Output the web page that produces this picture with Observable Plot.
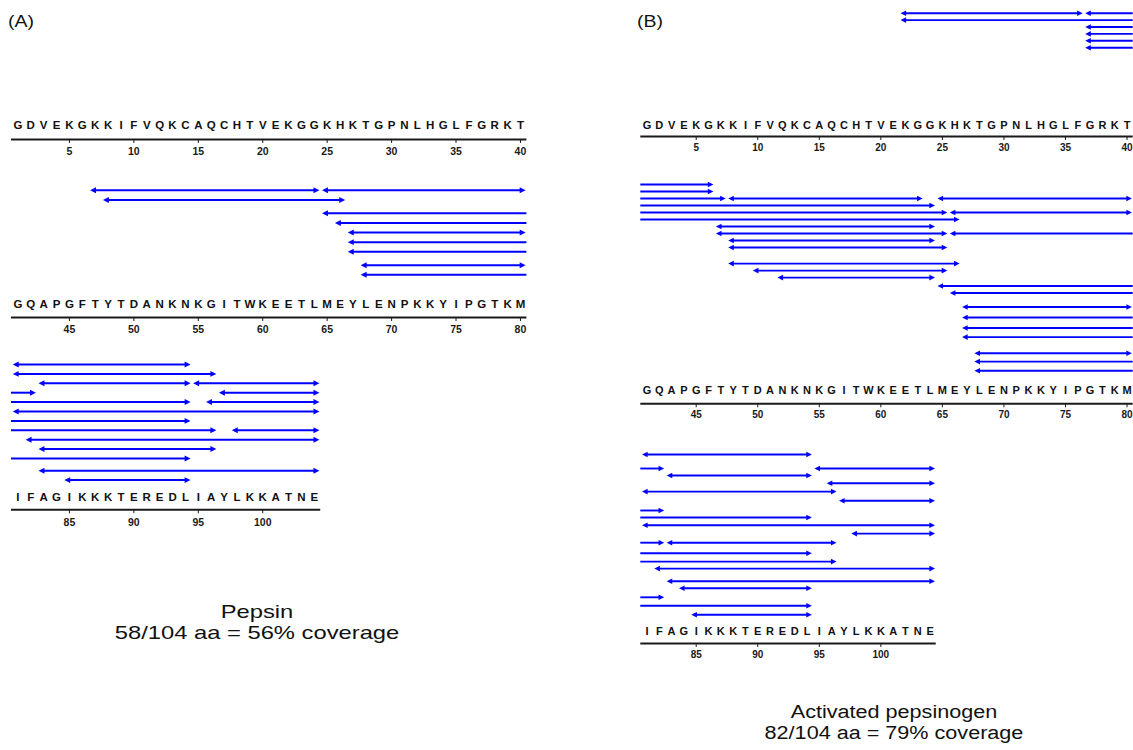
<!DOCTYPE html>
<html><head><meta charset="utf-8">
<script src="https://cdn.jsdelivr.net/npm/d3@7"></script>
<script src="https://cdn.jsdelivr.net/npm/@observablehq/plot@0.6"></script>
<style>
html,body{margin:0;padding:0;background:#fff;}
#wrap{position:relative;width:1133px;height:750px;overflow:hidden;font-family:"Liberation Sans",Arial,sans-serif;color:#111;}
.row{position:absolute;}
.rowA svg g[aria-label^="x-axis"] text{font-size:10.5px;font-weight:bold;}
.rowB svg g[aria-label^="x-axis"] text{font-size:10px;font-weight:bold;}
.lab{position:absolute;font-size:16px;line-height:20px;transform-origin:left top;transform:scaleX(1.22);}
.ttl{position:absolute;text-align:center;white-space:nowrap;}
</style></head><body><div id="wrap"></div>
<script>
// ---------- data ----------
const sequence = "GDVEKGKKIFVQKCAQCHTVEKGGKHKTGPNLHGLFGRKTGQAPGFTYTDANKNKGITWKEETLMEYLENPKKYIPGTKMIFAGIKKKTEREDLIAYLKKATNE";
const tickValues = [5, 10, 15, 20, 25, 30, 35, 40];
const panelLabels = ["(A)", "(B)"];
const titleLines = [["Pepsin", "58/104 aa = 56% coverage"], ["Activated pepsinogen", "82/104 aa = 79% coverage"]];
// peptide: [start residue, end residue, track in first row, track in following row]
const pepsinPeptides = [
  [47, 64, 0], [65, 80, 0], [48, 66, 1], [67, 80, 4.4], [68, 80, 7.8],
  [65, 82, 2.4, 3], [66, 94, 3.4, 4], [67, 94, 5.4, 6], [67, 96, 6.4, 7], [68, 94, 8.8, 10],
  [81, 94, 0], [81, 96, 1], [83, 94, 2], [95, 104, 2], [97, 104, 3], [96, 104, 4],
  [81, 104, 5], [98, 104, 7], [82, 104, 8], [83, 96, 9], [83, 104, 11.3], [85, 94, 12.3]
];
const pepsinogenPeptides = [
  [22, 36, 0],
  [37, 46, 0, 0], [22, 46, 1, 1], [37, 47, 2, 2], [37, 64, 3, 3], [37, 65, 4, 4], [37, 66, 5, 5],
  [48, 63, 2], [65, 80, 2], [66, 80, 4], [47, 64, 6], [47, 65, 7], [48, 64, 8], [48, 65, 9],
  [48, 66, 11.3], [50, 65, 12.3], [52, 64, 13.3], [67, 80, 17.5], [68, 80, 24.1],
  [66, 82, 7, 2], [65, 82, 14.5, 8], [66, 94, 15.5, 9], [67, 82, 19, 12.6], [67, 94, 20.5, 14.1],
  [67, 96, 21.8, 15.3], [68, 82, 25.3, 20.4], [68, 94, 26.6, 21.6],
  [81, 94, 0], [95, 104, 2], [83, 94, 3], [96, 104, 4.1], [81, 96, 5.3], [97, 104, 6.6],
  [81, 104, 10.1], [98, 104, 11.3], [83, 96, 12.6], [82, 104, 16.3], [83, 104, 18.1],
  [84, 94, 19.1], [85, 94, 22.9]
];

// ---------- layout ----------
const panels = [
  {peps: pepsinPeptides, cls: "rowA", left: 0, width: 540, ml: 10.95, mr: 13.6, mb: 22, pad: 4.5, letterSize: 11.5, tickSize: 10.5, headR: 3.5, sw: 2,
   label: {x: 8, y: 12}, title: {cx: 257, top: 602, size: 19, lh: 20.5, sx: 1.25},
   rows: [{top: 110, y0: 112, unit: 9.6, axis: 139, letterDy: -14},
          {top: 180, y0: 189.8, unit: 9.6, axis: 317, letterDy: -13},
          {top: 354, y0: 364, unit: 9.4, axis: 509.3, letterDy: -12.8}]},
  {peps: pepsinogenPeptides, cls: "rowB", left: 630, width: 503, ml: 10.3, mr: 0.3, mb: 22, pad: 3.5, letterSize: 11, tickSize: 10, headR: 3.3, sw: 1.9,
   label: {x: 637, y: 12}, title: {cx: 894, top: 702, size: 18, lh: 20.5, sx: 1.2},
   rows: [{top: 0, y0: 12.7, unit: 6.9, axis: 136, letterDy: -11},
          {top: 174, y0: 184, unit: 7, axis: 403.3, letterDy: -13},
          {top: 444, y0: 454, unit: 7, axis: 643, letterDy: -12}]}
];
const blue = "#0000ff";

const rightTri = {draw(ctx, size) { const r = Math.sqrt(size / Math.PI); ctx.moveTo(0, 0); ctx.lineTo(-1.7 * r, -0.85 * r); ctx.lineTo(-1.7 * r, 0.85 * r); ctx.closePath(); }};
const leftTri = {draw(ctx, size) { const r = Math.sqrt(size / Math.PI); ctx.moveTo(0, 0); ctx.lineTo(1.7 * r, -0.85 * r); ctx.lineTo(1.7 * r, 0.85 * r); ctx.closePath(); }};

function segments(peps, row) {
  const out = [];
  for (const [s, e, ...tr] of peps) {
    const r0 = Math.floor((s - 1) / 40), r1 = Math.floor((e - 1) / 40);
    if (row < r0 || row > r1) continue;
    out.push({
      track: tr[row - r0],
      x1: row === r0 ? s - 40 * row - 0.4 : 0.5,
      x2: row === r1 ? e - 40 * row + 0.4 : 40.5,
      lh: row === r0, rh: row === r1
    });
  }
  return out;
}

const wrap = document.getElementById("wrap");

panels.forEach((cfg, pi) => {
  cfg.rows.forEach((rc, row) => {
    const segs = segments(cfg.peps, row);
    const n = Math.min(40, sequence.length - 40 * row);
    const residues = d3.range(1, n + 1).map(p => ({p, ch: sequence[40 * row + p - 1]}));
    const D = (rc.axis - rc.y0) / rc.unit;
    const height = rc.axis - rc.top + cfg.mb;
    const inset = cfg.headR * 1.1;
    const marks = [
      Plot.ruleY([D], {x1: 0.5, x2: n + 0.5, stroke: "#1a1a1a", strokeWidth: 2}),
      Plot.text(residues, {x: "p", y: () => D, text: "ch", dy: rc.letterDy, fontSize: cfg.letterSize, fontWeight: "bold", fill: "#111"})
    ];
    for (const lh of [false, true]) for (const rh of [false, true]) {
      const g = segs.filter(d => d.lh === lh && d.rh === rh);
      if (g.length) marks.push(Plot.ruleY(g, {y: "track", x1: "x1", x2: "x2", stroke: blue, strokeWidth: cfg.sw, insetLeft: lh ? inset : 0, insetRight: rh ? inset : 0}));
    }
    marks.push(Plot.dot(segs.filter(d => d.lh), {x: "x1", y: "track", symbol: leftTri, r: cfg.headR, fill: blue, stroke: "none"}));
    marks.push(Plot.dot(segs.filter(d => d.rh), {x: "x2", y: "track", symbol: rightTri, r: cfg.headR, fill: blue, stroke: "none"}));
    const svg = Plot.plot({
      width: cfg.width, height,
      marginLeft: cfg.ml, marginRight: cfg.mr, marginTop: rc.y0 - rc.top, marginBottom: cfg.mb,
      x: {domain: [0.5, 40.5], ticks: tickValues.filter(t => t <= n), tickFormat: d => String(d + 40 * row), tickSize: 4, tickPadding: cfg.pad, label: null},
      y: {domain: [0, D], range: [rc.y0 - rc.top, rc.axis - rc.top], axis: null},
      style: {fontFamily: "'Liberation Sans', Arial, sans-serif", fontSize: cfg.tickSize + "px", fontWeight: "bold", color: "#1a1a1a", background: "transparent", overflow: "visible"},
      marks
    });
    const div = document.createElement("div");
    div.className = "row " + cfg.cls;
    div.style.left = cfg.left + "px";
    div.style.top = rc.top + "px";
    div.appendChild(svg);
    wrap.appendChild(div);
  });
  const lab = document.createElement("div");
  lab.className = "lab";
  lab.style.left = cfg.label.x + "px";
  lab.style.top = cfg.label.y + "px";
  lab.textContent = panelLabels[pi];
  wrap.appendChild(lab);
  const t = document.createElement("div");
  t.className = "ttl";
  t.style.left = (cfg.title.cx - 200) + "px";
  t.style.width = "400px";
  t.style.top = cfg.title.top + "px";
  t.style.fontSize = cfg.title.size + "px";
  t.style.lineHeight = cfg.title.lh + "px";
  titleLines[pi].forEach(s => { const d = document.createElement("div"); d.textContent = s; d.style.transform = "scaleX(" + cfg.title.sx + ")"; t.appendChild(d); });
  wrap.appendChild(t);
});
</script></body></html>
